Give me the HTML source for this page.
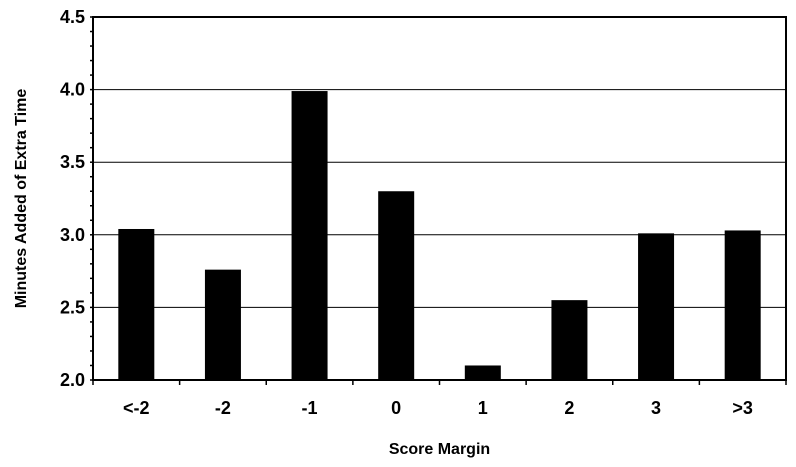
<!DOCTYPE html>
<html><head><meta charset="utf-8"><style>body{margin:0;background:#fff}svg{display:block}text{font-family:"Liberation Sans",Arial,sans-serif;font-weight:bold;fill:#000}</style></head>
<body>
<svg id="chart" width="796" height="467" viewBox="0 0 796 467"></svg>
<script>
const categories = ["<-2","-2","-1","0","1","2","3",">3"];
const values = [3.04,2.76,3.99,3.30,2.10,2.55,3.01,3.03];
const yTicks = [2.0,2.5,3.0,3.5,4.0,4.5];
const yTickLabels = ["2.0","2.5","3.0","3.5","4.0","4.5"];
const L=93,R=786,T=17,B=380,yMin=2,yMax=4.5;
const svg=document.getElementById('chart');const NS="http://www.w3.org/2000/svg";
const y=v=>B-(v-yMin)/(yMax-yMin)*(B-T);
const bw=(R-L)/categories.length;
const x=i=>L+bw*(i+0.5);
function mk(t,a,p){const e=document.createElementNS(NS,t);for(const k in a)e.setAttribute(k,a[k]);(p||svg).appendChild(e);return e;}
yTicks.forEach((v,i)=>{
 if(v>yMin&&v<yMax){const g=mk('line',{x1:L,x2:R,y1:y(v),y2:y(v),stroke:'#000','stroke-width':1});
 
 }
 const t=mk('text',{x:L-8,y:y(v)+6,'text-anchor':'end','font-size':18});t.textContent=yTickLabels[i];
 
 
});
for(let v=yMin;v<=yMax+1e-9;v+=0.1){mk('line',{x1:L-3,x2:L,y1:y(v),y2:y(v),stroke:'#000','stroke-width':1.5});}
values.forEach((v,i)=>{
 const r=mk('rect',{x:x(i)-18,y:y(v),width:36,height:B-y(v),fill:'#000'});
 
 
 const t=mk('text',{x:x(i),y:414,'text-anchor':'middle','font-size':18});t.textContent=categories[i];
 
 
});
for(let i=0;i<=categories.length;i++)mk('line',{x1:L+bw*i,x2:L+bw*i,y1:B,y2:B+5,stroke:'#000','stroke-width':1.5});
const f=mk('rect',{x:L,y:T,width:R-L,height:B-T,fill:'none',stroke:'#000','stroke-width':2});


const xt=mk('text',{x:(L+R)/2,y:454,'text-anchor':'middle','font-size':16});xt.textContent='Score Margin';


const yt=mk('text',{x:0,y:0,'text-anchor':'middle','font-size':16,transform:'translate(26,'+((T+B)/2)+') rotate(-90)'});yt.textContent='Minutes Added of Extra Time';


</script>
</body></html>
